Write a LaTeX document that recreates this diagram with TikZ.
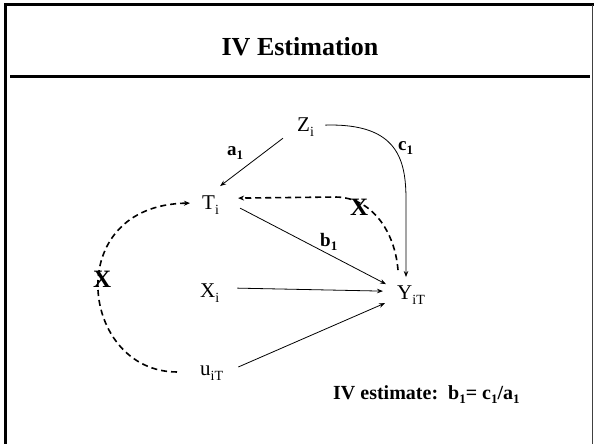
\documentclass[tikz,border=0pt]{standalone}
\usepackage{fontspec}
\setmainfont{Liberation Serif}
\usetikzlibrary{arrows.meta}
\newcommand\subx[1]{\raisebox{-5pt}{\fontsize{14}{14}\selectfont #1}}
\newcommand\subb[1]{\raisebox{-4pt}{\fontsize{13}{13}\selectfont\bfseries #1}}
\tikzset{
  var/.style={inner sep=0pt, anchor=base west, font=\fontsize{21}{25}\selectfont},
  lab/.style={inner sep=0pt, anchor=base west, font=\fontsize{19}{23}\selectfont\bfseries},
  bigx/.style={inner sep=0pt, anchor=base west, font=\fontsize{25}{29}\selectfont\bfseries},
  arr/.style={line width=0.8pt, -{Stealth[length=6pt,width=4.5pt]}},
  darr/.style={line width=1.6pt, dash pattern=on 6pt off 4pt, -{Stealth[length=6pt,width=5pt]}},
}
\begin{document}
\begin{tikzpicture}[x=1pt,y=-1pt]
\useasboundingbox (0,0) rectangle (594,444);
% frame
\draw[line width=2.6pt] (5.7,446) -- (5.7,4.7) -- (596,4.7);
\draw[line width=1pt, black!75] (592.7,4.7) -- (592.7,446);
\draw[line width=2.5pt] (10,76.3) -- (590,76.3);
% title
\node[inner sep=0pt, anchor=base, font=\fontsize{26}{30}\selectfont\bfseries] (title) at (300,56) {IV Estimation};
% variables
\node[var] (Z) at (297,131) {Z\subx{i}};
\node[var] (T) at (202,209) {T\subx{i}};
\node[var] (X) at (200,297) {X\subx{i}};
\node[var] (U) at (200,375) {u\subx{iT}};
\node[var] (Y) at (397,299) {Y\subx{iT}};
% labels
\node[lab] (a1) at (227,155) {a\subb{1}};
\node[lab] (c1) at (398,150) {c\subb{1}};
\node[lab] (b1) at (320,246) {b\subb{1}};
\node[bigx] (xl) at (93,287) {X};
\node[bigx] (xr) at (350,215) {X};
\node[inner sep=0pt, anchor=base west, font=\fontsize{20}{24}\selectfont\bfseries] (est) at (333,399) {IV estimate:\ \ b\subb{1}= c\subb{1}/a\subb{1}};
% connectors
\draw[arr] ([shift={(-14,2)}]Z.south west) -- ([shift={(1,-9)}]T.north east);
\draw[arr] ([shift={(21,3.5)}]T.east) -- ([shift={(-11,-10.5)}]Y.west);
\draw[arr] ([shift={(18,-4.5)}]X.east) -- ([shift={(-14,-3.5)}]Y.west);
\draw[arr] ([shift={(15,-5.7)}]U.east) -- ([shift={(-12,8.5)}]Y.west);
\draw[arr] ([shift={(11.3,-1.5)}]Z.east) .. controls (398,123) and (406,160) .. (406,200) -- ([shift={(9,-8)}]Y.north west);
\draw[darr] ([shift={(1,-15)}]Y.north west) .. controls (395,232) and (372,197) .. (335,197) -- ([shift={(19,-6.5)}]T.east);
\draw[darr] ([shift={(-23,-0.7)}]U.west) .. controls (80,372) and (60,205) .. ([shift={(-12,-1.5)}]T.west);
\end{tikzpicture}
\end{document}
